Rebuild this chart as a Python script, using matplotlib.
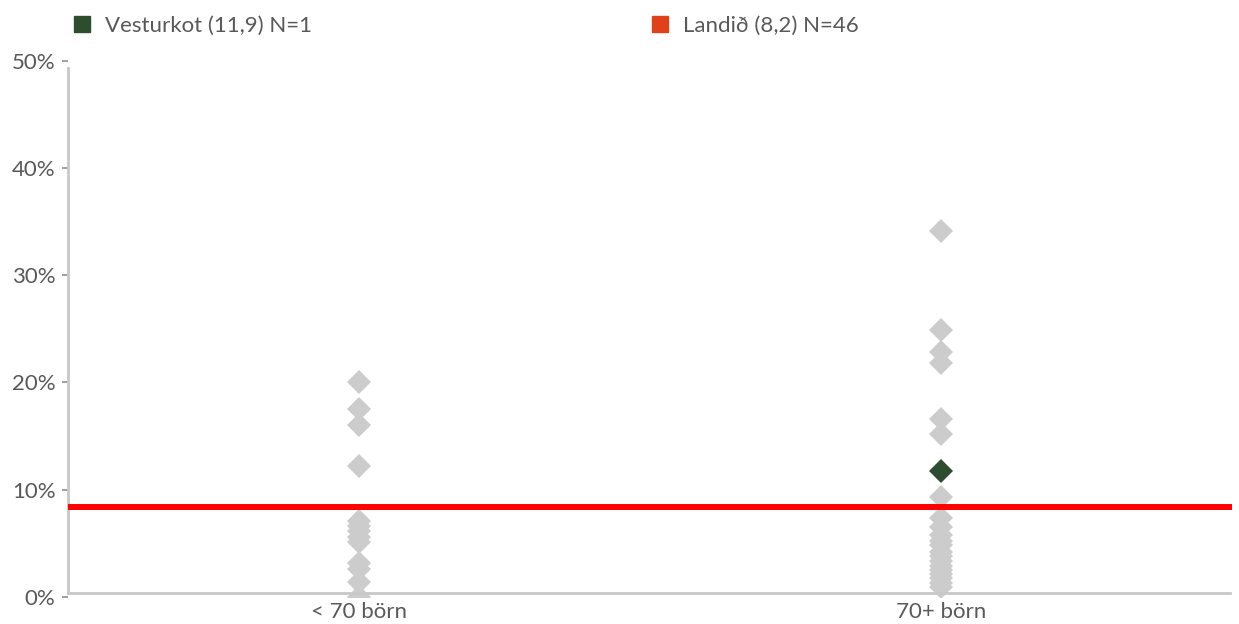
import numpy as np
import matplotlib.pyplot as plt
from matplotlib.lines import Line2D

plt.rcParams['font.family'] = ['Lato', 'DejaVu Sans']

# categories and values (percent)
categories = ['< 70 börn', '70+ börn']
small_vals = [20.0, 17.5, 16.0, 12.2, 7.1, 6.6, 6.1, 5.6, 5.1, 3.1, 2.6, 1.4, 0.0]
large_vals = [34.1, 24.9, 22.8, 21.8, 16.6, 15.2, 9.3, 7.3, 6.5, 5.75, 5.2, 4.8,
              4.2, 3.8, 3.3, 2.9, 2.5, 2.1, 1.7, 1.3, 0.9]
highlight_cat = 1
highlight_val = 11.7
national_avg = 8.4
legend_labels = ['Vesturkot (11,9) N=1', 'Landið (8,2) N=46']
yticks = [0, 10, 20, 30, 40, 50]
ytick_labels = ['0%', '10%', '20%', '30%', '40%', '50%']

grey = '#cccccc'
green = '#2e4d2e'
red_sq = '#e0401a'
txt = '#595959'
axis_col = '#c8c8c8'

fig = plt.figure(figsize=(12.39, 6.24), dpi=100)
ax = fig.add_axes([68 / 1239, 1 - 596.7 / 624, (1232 - 68) / 1239, (596.7 - 60.7) / 624])

for i, vals in enumerate([small_vals, large_vals]):
    ax.plot(np.full(len(vals), i), vals, linestyle='none', marker='D', ms=12.5,
            color=grey, markeredgewidth=0, zorder=2)

ax.plot([highlight_cat], [highlight_val], linestyle='none', marker='D', ms=12.5,
        color=green, markeredgewidth=0, zorder=4)
ax.axhline(national_avg, color='#ff0000', lw=4.3, zorder=3)

ax.set_xlim(-0.5, 1.5)
ax.set_ylim(0, 50)
ax.set_xticks(range(len(categories)))
ax.set_xticklabels(categories)
ax.set_yticks(yticks)
ax.set_yticklabels(ytick_labels)
ax.tick_params(axis='x', length=0, pad=7, labelsize=16, labelcolor=txt)
ax.tick_params(axis='y', length=4, width=1.3, color='#999999', pad=5,
               labelsize=16, labelcolor=txt)

for s in ['top', 'right']:
    ax.spines[s].set_visible(False)
for s in ['left', 'bottom']:
    ax.spines[s].set_color(axis_col)
    ax.spines[s].set_linewidth(2)
ax.spines['bottom'].set_position(('data', 0.37))
ax.spines['bottom'].set_bounds(-0.5, 1.497)
ax.spines['left'].set_bounds(0.37, 49.35)

handles = [Line2D([], [], linestyle='none', marker='s', ms=11, color=green),
           Line2D([], [], linestyle='none', marker='s', ms=11, color=red_sq)]
fig.legend(handles, legend_labels, loc='upper left', bbox_to_anchor=(55 / 1239, 1.0),
           ncol=2, frameon=False, fontsize=16, labelcolor=txt,
           handletextpad=0.53, columnspacing=15.2, handlelength=1.0, borderaxespad=0.3)

fig.savefig('out.png', dpi=100)
